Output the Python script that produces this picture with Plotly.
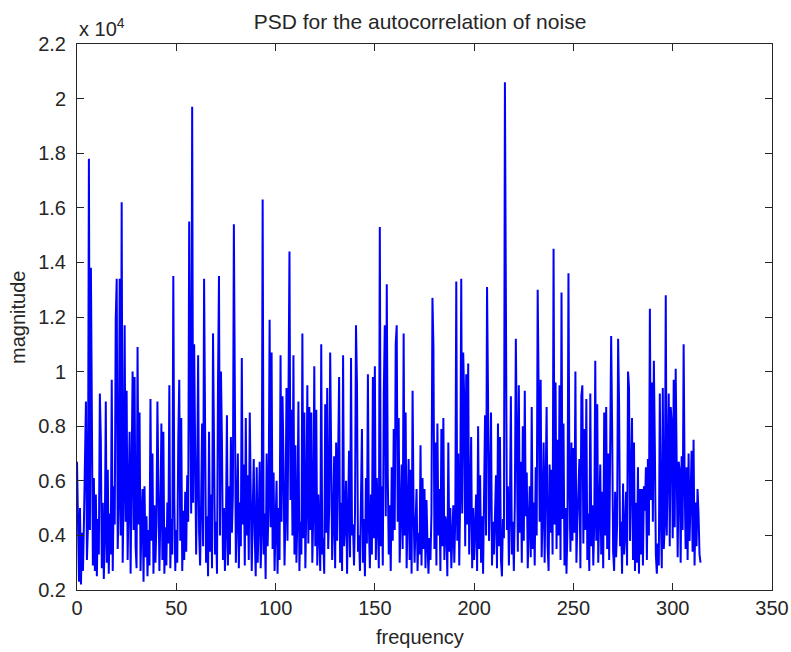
import plotly.graph_objects as go

# PSD magnitude (x 10^4), one value every 0.5 frequency units from 0 to 314
freq_step = 0.5
magnitude = [
    0.67, 0.48, 0.23, 0.50, 0.22, 0.41, 0.27, 0.45, 0.62, 0.89, 0.31, 0.43, 1.78, 0.42, 1.38, 0.85, 0.29, 0.61, 0.27, 0.55,
    0.25, 0.46, 0.33, 0.92, 0.75, 0.28, 0.52, 0.24, 0.40, 0.89, 0.30, 0.64, 0.26, 0.48, 0.33, 0.97, 0.27, 0.58, 0.44, 1.19,
    1.34, 0.35, 0.52, 1.34, 0.40, 1.62, 0.30, 0.56, 1.17, 0.45, 0.93, 0.31, 0.49, 0.78, 0.26, 0.55, 1.00, 0.42, 0.98, 0.36,
    0.28, 1.09, 0.44, 0.85, 0.27, 0.46, 0.57, 0.23, 0.58, 0.32, 0.47, 0.25, 0.42, 0.29, 0.90, 0.38, 0.70, 0.26, 0.51, 0.30,
    0.44, 0.89, 0.65, 0.27, 0.48, 0.81, 0.31, 0.78, 0.26, 0.43, 0.29, 0.52, 0.37, 0.95, 0.28, 0.46, 0.33, 1.35, 0.53, 0.27,
    0.42, 0.30, 0.75, 0.97, 0.38, 0.83, 0.27, 0.49, 0.31, 0.56, 0.34, 0.62, 0.45, 1.55, 0.95, 0.48, 1.97, 0.52, 1.10, 0.70,
    0.33, 0.60, 1.06, 0.41, 0.29, 0.52, 0.81, 0.36, 1.34, 0.81, 0.30, 0.47, 0.25, 0.78, 0.34, 0.55, 0.28, 1.14, 0.69, 0.33,
    0.45, 0.26, 0.95, 1.35, 0.40, 1.00, 0.74, 0.31, 0.50, 0.27, 0.43, 0.84, 0.29, 0.58, 0.33, 0.76, 0.41, 0.55, 1.54, 0.74,
    0.30, 0.47, 0.70, 0.28, 0.52, 0.36, 1.05, 0.44, 0.66, 0.29, 0.83, 0.40, 0.62, 0.31, 0.85, 0.55, 0.27, 0.49, 0.68, 0.40,
    0.25, 0.65, 0.30, 0.45, 0.67, 0.28, 0.41, 1.63, 0.33, 0.48, 0.24, 0.70, 0.36, 0.52, 1.19, 0.43, 1.07, 0.35, 0.63, 0.27,
    0.42, 0.60, 0.26, 0.50, 0.31, 1.06, 0.45, 0.91, 0.67, 0.29, 0.48, 0.94, 0.38, 1.21, 1.44, 0.53, 0.86, 0.40, 1.06, 0.33,
    0.73, 0.30, 0.46, 0.89, 0.27, 0.45, 0.33, 1.14, 0.39, 0.85, 0.28, 0.51, 0.95, 0.37, 0.87, 0.42, 0.85, 0.30, 0.48, 1.02,
    0.36, 0.86, 0.29, 0.55, 0.42, 0.27, 1.10, 0.33, 0.39, 0.26, 0.88, 0.41, 0.94, 0.35, 0.50, 1.07, 0.70, 0.31, 0.45, 0.69,
    0.28, 0.74, 0.38, 0.70, 0.98, 0.30, 0.52, 0.27, 1.06, 0.36, 0.44, 0.60, 0.26, 0.47, 0.71, 0.32, 1.05, 0.40, 0.44, 0.29,
    0.48, 1.17, 0.95, 0.34, 0.40, 0.27, 0.51, 0.79, 0.30, 0.46, 0.25, 0.61, 0.37, 0.99, 0.43, 0.28, 0.55, 0.33, 0.98, 0.39,
    1.02, 0.31, 0.61, 0.44, 0.28, 1.53, 0.36, 0.58, 0.29, 0.92, 1.17, 0.47, 1.32, 0.62, 0.33, 0.51, 0.27, 0.65, 0.38, 0.79,
    0.42, 1.10, 1.17, 0.45, 0.83, 0.30, 0.49, 0.66, 0.35, 1.14, 0.40, 0.85, 0.28, 0.46, 0.68, 0.31, 0.64, 0.26, 0.93, 0.49,
    0.30, 0.44, 0.57, 0.27, 0.41, 0.33, 0.73, 0.29, 0.61, 0.35, 0.57, 0.28, 0.53, 0.37, 0.26, 0.39, 0.31, 0.48, 1.27, 1.09,
    0.35, 0.74, 0.29, 0.81, 0.40, 0.57, 0.27, 0.79, 0.36, 0.83, 0.31, 0.47, 0.44, 0.25, 0.74, 0.34, 0.50, 0.28, 0.42, 0.51,
    0.30, 0.46, 1.33, 0.38, 0.70, 0.29, 0.55, 1.34, 0.48, 1.07, 0.90, 0.36, 0.99, 0.44, 1.03, 0.33, 0.52, 0.76, 0.28, 0.50,
    0.31, 0.43, 0.55, 0.27, 0.80, 0.35, 0.62, 0.30, 0.47, 0.26, 0.54, 0.84, 0.40, 1.31, 0.91, 0.38, 0.57, 0.85, 0.29, 0.45,
    0.33, 0.50, 0.62, 0.28, 0.81, 0.36, 0.76, 0.31, 0.25, 0.46, 0.39, 2.06, 1.24, 0.42, 0.58, 0.29, 0.48, 0.91, 0.33, 0.45,
    0.27, 0.52, 1.12, 0.70, 0.34, 0.95, 0.41, 0.67, 0.30, 0.80, 0.38, 0.93, 0.47, 0.63, 0.28, 0.44, 0.58, 0.32, 0.87, 0.35,
    0.52, 0.29, 0.65, 0.40, 1.30, 0.91, 0.45, 0.97, 0.32, 0.48, 0.74, 0.30, 0.54, 0.87, 0.36, 0.27, 0.66, 0.41, 0.64, 0.33,
    1.45, 0.44, 0.96, 0.35, 0.75, 0.40, 0.95, 0.31, 1.29, 0.46, 0.81, 0.29, 0.50, 0.26, 0.43, 1.36, 0.57, 0.34, 0.74, 0.38,
    0.72, 0.41, 1.00, 0.30, 0.45, 0.60, 0.68, 0.28, 0.91, 0.95, 0.37, 0.79, 0.42, 0.90, 0.31, 0.48, 0.27, 0.92, 0.36, 0.51,
    0.29, 0.45, 1.04, 0.38, 0.88, 0.30, 0.47, 0.66, 0.33, 0.56, 0.28, 0.85, 0.40, 0.87, 0.35, 0.70, 0.31, 0.63, 1.13, 0.79,
    0.34, 0.27, 0.56, 0.32, 0.44, 1.12, 0.88, 0.36, 0.45, 0.26, 0.59, 0.33, 0.41, 0.56, 0.29, 1.00, 0.94, 0.38, 0.63, 0.83,
    0.31, 0.74, 0.27, 0.52, 0.30, 0.65, 0.26, 0.57, 0.33, 0.57, 0.29, 0.58, 0.49, 0.65, 0.31, 0.68, 0.40, 1.23, 0.53, 0.96,
    0.45, 1.04, 0.73, 0.33, 0.26, 0.37, 0.29, 0.92, 0.47, 0.28, 0.94, 0.35, 0.44, 1.28, 0.40, 0.75, 0.92, 0.36, 0.87, 0.81,
    0.39, 0.97, 0.43, 1.01, 0.61, 0.32, 0.67, 0.64, 0.30, 0.69, 0.42, 1.10, 0.60, 0.35, 0.65, 0.31, 0.70, 0.38, 0.54, 0.71,
    0.34, 0.75, 0.29, 0.52, 0.36, 0.57, 0.48, 0.33, 0.30,
]
frequency = [i * freq_step for i in range(len(magnitude))]

y_ticks = [0.2, 0.4, 0.6, 0.8, 1.0, 1.2, 1.4, 1.6, 1.8, 2.0, 2.2]
y_labels = ["0.2", "0.4", "0.6", "0.8", "1", "1.2", "1.4", "1.6", "1.8", "2", "2.2"]
x_ticks = [0, 50, 100, 150, 200, 250, 300, 350]

font = "Liberation Sans, Arial, sans-serif"
ink = "#262626"

fig = go.Figure()
fig.add_trace(go.Scatter(x=frequency, y=magnitude, mode="lines",
                         line=dict(color="#0000ff", width=2),
                         showlegend=False))

axis_style = dict(showline=True, linecolor=ink, linewidth=1, mirror="ticks",
                  ticks="inside", ticklen=7, tickcolor=ink, showgrid=False,
                  zeroline=False, automargin=False,
                  tickfont=dict(family=font, size=20, color=ink))

fig.update_xaxes(range=[0, 350], tickvals=x_ticks, ticklabeloverflow="allow", **axis_style)
fig.update_yaxes(range=[0.2, 2.2], tickvals=y_ticks, ticktext=y_labels,
                 ticklabelstandoff=6, **axis_style)

fig.update_layout(
    width=791, height=652,
    margin=dict(l=77, r=19, t=44, b=62),
    paper_bgcolor="white", plot_bgcolor="white",
    font=dict(family=font, size=20, color=ink),
    title=dict(text="PSD for the autocorrelation of noise", xref="paper", x=0.4935,
               xanchor="center", y=1 - 22 / 652, yanchor="middle",
               font=dict(family=font, size=21, color=ink)),
    annotations=[
        dict(text="x 10<sup>4</sup>", xref="paper", yref="paper", x=0, y=1,
             xanchor="left", yanchor="bottom", yshift=2, showarrow=False,
             font=dict(family=font, size=20, color=ink)),
        dict(text="frequency", xref="paper", yref="paper", x=0.4935, y=0,
             xanchor="center", yanchor="middle", yshift=-47, showarrow=False,
             font=dict(family=font, size=20, color=ink)),
        dict(text="magnitude", xref="paper", yref="paper", x=-0.085, y=0.5,
             xanchor="center", yanchor="middle", textangle=-90, showarrow=False,
             font=dict(family=font, size=20, color=ink)),
    ],
)

# drop the browser's default body margin and scrollbars so the figure fills the window
page_js = ("document.body.style.margin = '0';"
           "document.body.style.overflow = 'hidden';"
           "document.documentElement.style.overflow = 'hidden';")
fig.write_html("out.html", post_script=page_js, config={"displayModeBar": False})
